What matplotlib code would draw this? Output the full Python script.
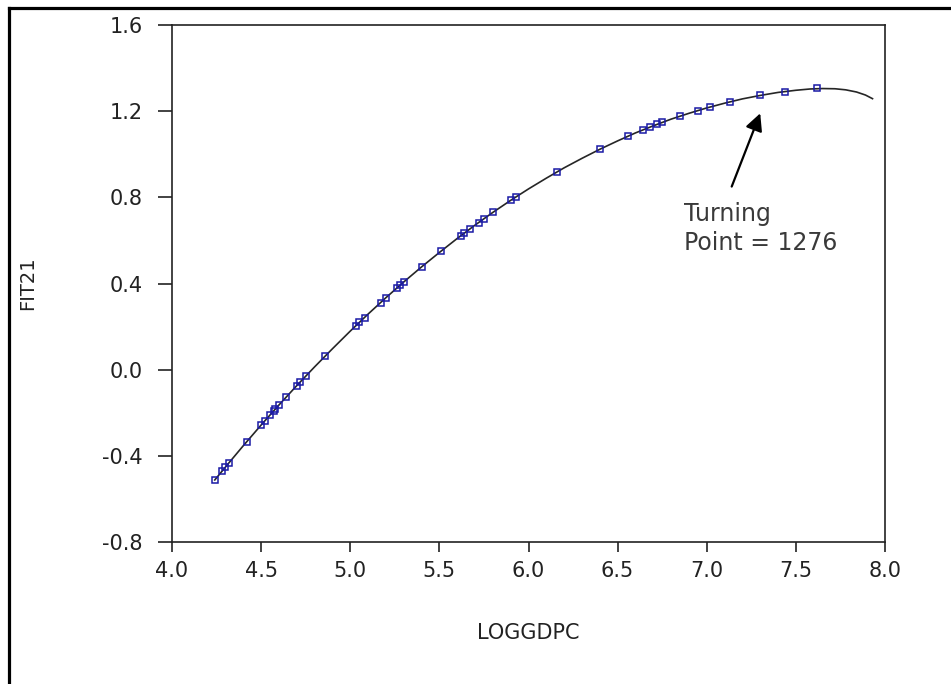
import matplotlib
matplotlib.use("Agg")
import matplotlib.pyplot as plt
from matplotlib.lines import Line2D

# ---- data ----
obs_x = [4.24, 4.28, 4.30, 4.32, 4.42, 4.50, 4.52, 4.55, 4.57, 4.58, 4.60, 4.64,
         4.70, 4.72, 4.75, 4.86, 5.03, 5.05, 5.08, 5.17, 5.20, 5.26, 5.28, 5.30,
         5.40, 5.51, 5.62, 5.64, 5.67, 5.72, 5.75, 5.80, 5.90, 5.93, 6.16, 6.40,
         6.56, 6.64, 6.68, 6.72, 6.75, 6.85, 6.95, 7.02, 7.13, 7.30, 7.44, 7.62]
obs_y = [-0.512, -0.472, -0.451, -0.432, -0.334, -0.257, -0.238, -0.210, -0.192,
         -0.183, -0.164, -0.128, -0.074, -0.057, -0.030, 0.064, 0.203, 0.219,
         0.242, 0.311, 0.334, 0.378, 0.392, 0.407, 0.477, 0.551, 0.622, 0.634,
         0.652, 0.683, 0.701, 0.730, 0.786, 0.802, 0.918, 1.023, 1.085, 1.113,
         1.126, 1.139, 1.148, 1.177, 1.203, 1.220, 1.244, 1.273, 1.291, 1.307]

curve_x = [4.24, 4.32, 4.40, 4.50, 4.60, 4.70, 4.80, 4.90, 5.00, 5.10, 5.20,
           5.30, 5.40, 5.50, 5.60, 5.70, 5.80, 5.90, 6.00, 6.10, 6.20, 6.30,
           6.40, 6.50, 6.60, 6.70, 6.80, 6.90, 7.00, 7.10, 7.20, 7.30, 7.40,
           7.50, 7.58, 7.65, 7.72, 7.78, 7.84, 7.89, 7.93]
curve_y = [-0.512, -0.432, -0.353, -0.257, -0.164, -0.074, 0.013, 0.097, 0.179,
           0.258, 0.334, 0.407, 0.477, 0.544, 0.609, 0.671, 0.730, 0.786, 0.839,
           0.889, 0.937, 0.981, 1.023, 1.062, 1.099, 1.132, 1.163, 1.190, 1.215,
           1.237, 1.257, 1.273, 1.287, 1.297, 1.303, 1.305, 1.304, 1.299, 1.289,
           1.275, 1.258]

x_ticks = [4.0, 4.5, 5.0, 5.5, 6.0, 6.5, 7.0, 7.5, 8.0]
x_tick_labels = ["4.0", "4.5", "5.0", "5.5", "6.0", "6.5", "7.0", "7.5", "8.0"]
y_ticks = [-0.8, -0.4, 0.0, 0.4, 0.8, 1.2, 1.6]
y_tick_labels = ["-0.8", "-0.4", "0.0", "0.4", "0.8", "1.2", "1.6"]

annot_text = "Turning\nPoint = 1276"
arrow_tip = (7.30, 1.19)
arrow_tail = (7.14, 0.85)
text_pos = (6.875, 0.78)

# ---- figure ----
fig = plt.figure(figsize=(9.51, 6.84), dpi=100)
fig.patch.set_facecolor("white")
ax = fig.add_axes([172/951, 1-542/684, (885-172)/951, (542-25)/684])

ax.plot(curve_x, curve_y, color="#262626", lw=1.2, zorder=2)
ax.plot(obs_x, obs_y, linestyle="none", marker="s", markersize=4.5,
        markerfacecolor="none", markeredgecolor="#1a1aa6", markeredgewidth=1.1,
        zorder=3)

ax.set_xlim(4.0, 8.0)
ax.set_ylim(-0.8, 1.6)
ax.set_xticks(x_ticks)
ax.set_xticklabels(x_tick_labels)
ax.set_yticks(y_ticks)
ax.set_yticklabels(y_tick_labels)

for s in ax.spines.values():
    s.set_linewidth(1.2)
    s.set_color("#222222")
ax.tick_params(axis="x", direction="out", length=7, width=1.2, pad=7,
               labelsize=15, colors="#222222")
ax.tick_params(axis="y", direction="out", length=10, width=1.2, pad=11,
               labelsize=15, colors="#222222")

ax.set_xlabel("LOGGDPC", fontsize=15, color="#222222", labelpad=30)
ax.set_ylabel("FIT21", fontsize=14, color="#222222", labelpad=47)

ax.annotate("", xy=arrow_tip, xytext=arrow_tail,
            arrowprops=dict(arrowstyle="-|>", color="black", lw=1.6,
                            mutation_scale=26, shrinkA=0, shrinkB=0))
ax.text(text_pos[0], text_pos[1], annot_text, ha="left", va="top",
        fontsize=17, color="#3a3a3a", linespacing=1.3)

# outer frame (top and left edges visible)
fig.add_artist(Line2D([9/951, 9/951], [0, 1-8/684], transform=fig.transFigure,
                      color="black", lw=2.3))
fig.add_artist(Line2D([9/951, 1], [1-8/684, 1-8/684], transform=fig.transFigure,
                      color="black", lw=2.3))

fig.savefig("out.png", dpi=100)
